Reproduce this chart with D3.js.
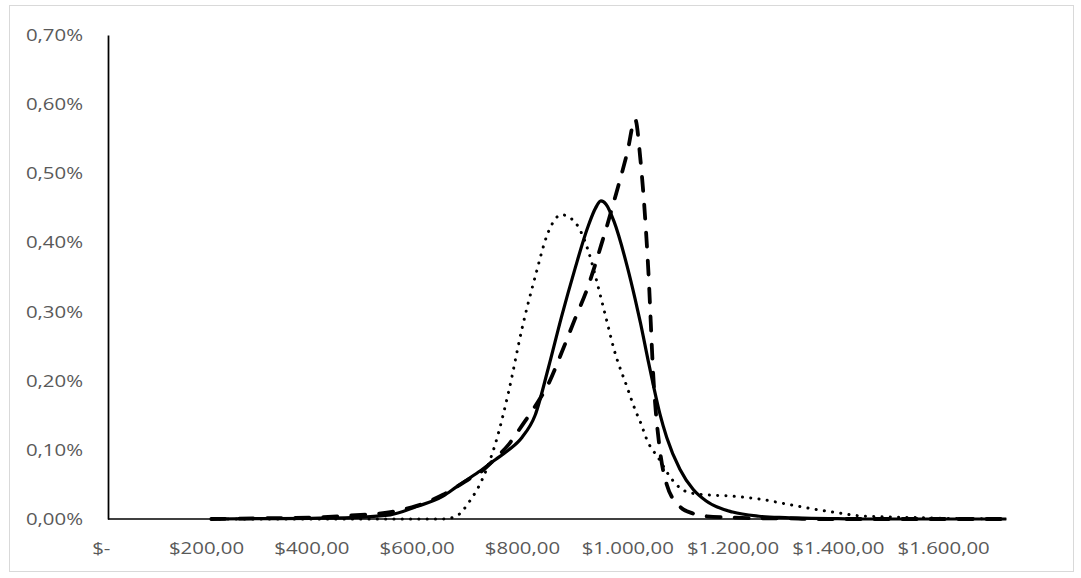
<!DOCTYPE html>
<html>
<head>
<meta charset="utf-8">
<script src="https://cdn.jsdelivr.net/npm/d3@7"></script>
<style>
  html, body { margin: 0; padding: 0; background: #fff; }
  svg { display: block; }
</style>
</head>
<body>
<svg id="chart" width="1081" height="578"></svg>
<script>
// ---- data (values in %) ----
const prices = [210, 300, 400, 475, 550, 600, 650, 675, 700, 725, 750, 775, 800, 825, 850, 875, 900, 925, 940, 950, 960, 975, 1000, 1015, 1025, 1040, 1050, 1062, 1075, 1100, 1125, 1150, 1200, 1250, 1300, 1350, 1400, 1450, 1500, 1600, 1720];

const seriesSolid = [0, 0.0005, 0.001, 0.002, 0.006, 0.018, 0.033, 0.046, 0.059, 0.072, 0.086, 0.1, 0.118, 0.15, 0.218, 0.292, 0.36, 0.422, 0.45, 0.46, 0.455, 0.43, 0.365, 0.318, 0.284, 0.228, 0.192, 0.152, 0.118, 0.072, 0.043, 0.026, 0.01, 0.004, 0.002, 0.001, 0.0005, 0, 0, 0, 0];

const seriesDashed = [0, 0.001, 0.002, 0.005, 0.01, 0.019, 0.035, 0.046, 0.058, 0.07, 0.088, 0.108, 0.135, 0.163, 0.195, 0.24, 0.288, 0.335, 0.37, 0.395, 0.42, 0.46, 0.53, 0.578, 0.52, 0.36, 0.2, 0.1, 0.05, 0.018, 0.008, 0.004, 0.002, 0.001, 0.001, 0, 0, 0, 0, 0, 0];

const seriesDotted = [0, 0, 0, 0, 0, 0, 0, 0.004, 0.025, 0.058, 0.11, 0.185, 0.275, 0.35, 0.415, 0.44, 0.43, 0.39, 0.35, 0.32, 0.29, 0.245, 0.19, 0.158, 0.14, 0.11, 0.098, 0.085, 0.068, 0.045, 0.037, 0.035, 0.033, 0.029, 0.022, 0.015, 0.009, 0.004, 0.003, 0.001, 0];

const xTickValues = [0, 200, 400, 600, 800, 1000, 1200, 1400, 1600];
const yTickValues = [0, 0.1, 0.2, 0.3, 0.4, 0.5, 0.6, 0.7];

// ---- layout ----
const svg = d3.select("#chart");
const plotLeft = 108, plotTop = 35, plotBottom = 519;

const x = d3.scaleLinear().domain([0, 1720]).range([100.75, 100.75 + 1720 * 0.5265]);
const y = d3.scaleLinear().domain([0, 0.7]).range([plotBottom, plotTop]);

const loc = d3.formatLocale({ decimal: ",", thousands: ".", grouping: [3], currency: ["$", ""] });
const fmtMoney = loc.format("$,.2f");
const fmtPct = loc.format(".2f");

// outer chart border
svg.append("rect")
  .attr("x", 9.5).attr("y", 5.5)
  .attr("width", 1064).attr("height", 566)
  .attr("fill", "#fff").attr("stroke", "#d9d9d9").attr("stroke-width", 1);

const font = "'Open Sans', Lato, sans-serif";
const stretch = 1.2;

// y axis
const yAxis = svg.append("g")
  .attr("transform", `translate(${plotLeft},0)`)
  .call(d3.axisLeft(y).tickValues(yTickValues).tickSize(0).tickPadding(25)
    .tickFormat(d => fmtPct(d) + "%"));
yAxis.select(".domain").attr("stroke", "#000").attr("stroke-width", 1.75);
yAxis.selectAll("text")
  .attr("fill", "#595959").style("font-family", font).style("font-size", "17px")
  .attr("x", -25 / stretch).attr("transform", `scale(${stretch},1)`);

// x axis
const xAxis = svg.append("g")
  .attr("transform", `translate(0,${plotBottom})`)
  .call(d3.axisBottom(x).tickValues(xTickValues).tickSize(0).tickPadding(23)
    .tickFormat(d => d === 0 ? "$-" : fmtMoney(d)));
xAxis.select(".domain").remove();
xAxis.selectAll("text")
  .attr("fill", "#595959").style("font-family", font).style("font-size", "17px")
  .attr("transform", `scale(${stretch},1)`);
svg.append("line")
  .attr("x1", plotLeft).attr("x2", x(1720))
  .attr("y1", plotBottom).attr("y2", plotBottom)
  .attr("stroke", "#000").attr("stroke-width", 1.5);

// lines
const makeLine = vals => d3.line()
  .x((d, i) => x(prices[i]))
  .y(d => y(d))
  .curve(d3.curveMonotoneX)(vals);

svg.append("path").attr("d", makeLine(seriesDotted))
  .attr("fill", "none").attr("stroke", "#000").attr("stroke-width", 3)
  .attr("stroke-linecap", "round").attr("stroke-dasharray", "0.1,8.2");

svg.append("path").attr("d", makeLine(seriesSolid))
  .attr("fill", "none").attr("stroke", "#000").attr("stroke-width", 3.2)
  .attr("stroke-linejoin", "round");

svg.append("path").attr("d", makeLine(seriesDashed))
  .attr("fill", "none").attr("stroke", "#000").attr("stroke-width", 3.8)
  .attr("stroke-linecap", "round").attr("stroke-dasharray", "14,14");
</script>
</body>
</html>
